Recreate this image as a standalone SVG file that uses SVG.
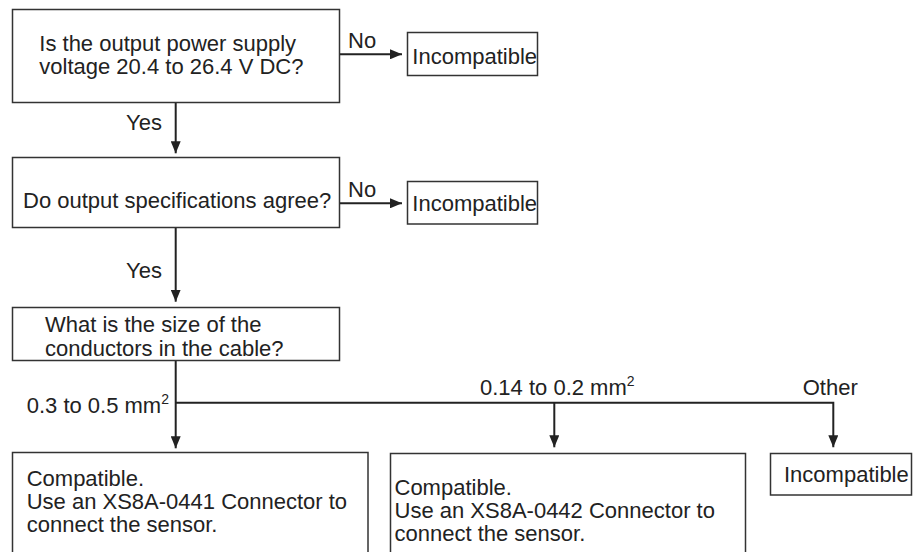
<svg xmlns="http://www.w3.org/2000/svg" width="916" height="552" viewBox="0 0 916 552">
<style>
.box{fill:#fff;stroke:#333;stroke-width:1.5}
.t{font-family:"Liberation Sans",Arial,sans-serif;font-size:22px;fill:#222}
.sup{font-size:14px}
.c{fill:none;stroke:#222;stroke-width:2}
</style>
<defs>
<marker id="ah" markerUnits="userSpaceOnUse" markerWidth="12" markerHeight="10" refX="12" refY="5" orient="auto">
<path d="M0,0 L12,5 L0,10 z" fill="#222"/>
</marker>
</defs>
<rect width="916" height="552" fill="#fff"/>
<g id="connectors">
<path class="c" d="M339.7,54.3 H402" marker-end="url(#ah)"/>
<path class="c" d="M175.7,102.7 V153.3" marker-end="url(#ah)"/>
<path class="c" d="M339.7,203.3 H402" marker-end="url(#ah)"/>
<path class="c" d="M175.7,227.3 V301.7" marker-end="url(#ah)"/>
<path class="c" d="M175.7,360.7 V448.3" marker-end="url(#ah)"/>
<path class="c" d="M175.7,402.7 H833.3 V447.3" marker-end="url(#ah)"/>
<path class="c" d="M554.3,402.7 V447.3" marker-end="url(#ah)"/>
<text class="t" x="348" y="48.3">No</text>
<text class="t" x="126" y="130">Yes</text>
<text class="t" x="348" y="196.7">No</text>
<text class="t" x="126" y="277.7">Yes</text>
<text class="t" x="26.7" y="413.3">0.3 to 0.5 mm<tspan class="sup" dy="-9">2</tspan></text>
<text class="t" x="480" y="395">0.14 to 0.2 mm<tspan class="sup" dy="-9">2</tspan></text>
<text class="t" x="802.7" y="395">Other</text>
</g>
<g id="q1">
<rect class="box" x="12.5" y="9.5" width="327" height="93"/>
<text class="t" x="39.3" y="50.7">Is the output power supply</text>
<text class="t" x="39.3" y="74">voltage 20.4 to 26.4 V DC?</text>
</g>
<g id="inc1">
<rect class="box" x="407.5" y="32.5" width="130" height="43"/>
<text class="t" x="412.3" y="64.3">Incompatible</text>
</g>
<g id="q2">
<rect class="box" x="12.5" y="157.5" width="327" height="70"/>
<text class="t" x="23" y="208">Do output specifications agree?</text>
</g>
<g id="inc2">
<rect class="box" x="407.5" y="181.5" width="130" height="42.5"/>
<text class="t" x="412.3" y="210.7">Incompatible</text>
</g>
<g id="q3">
<rect class="box" x="12.5" y="307.5" width="327" height="53"/>
<text class="t" x="45" y="331.7">What is the size of the</text>
<text class="t" x="45" y="355.7">conductors in the cable?</text>
</g>
<g id="comp1">
<rect class="box" x="12.5" y="452.5" width="355.5" height="110"/>
<text class="t" x="26.7" y="485.5">Compatible.</text>
<text class="t" x="26.7" y="508.7">Use an XS8A-0441 Connector to</text>
<text class="t" x="26.7" y="532">connect the sensor.</text>
</g>
<g id="comp2">
<rect class="box" x="390.5" y="453.5" width="355" height="110"/>
<text class="t" x="394.5" y="494.5">Compatible.</text>
<text class="t" x="394.5" y="517.7">Use an XS8A-0442 Connector to</text>
<text class="t" x="394.5" y="541">connect the sensor.</text>
</g>
<g id="inc3">
<rect class="box" x="770.5" y="453.5" width="141" height="41.5"/>
<text class="t" x="784" y="481.7">Incompatible</text>
</g>
</svg>
